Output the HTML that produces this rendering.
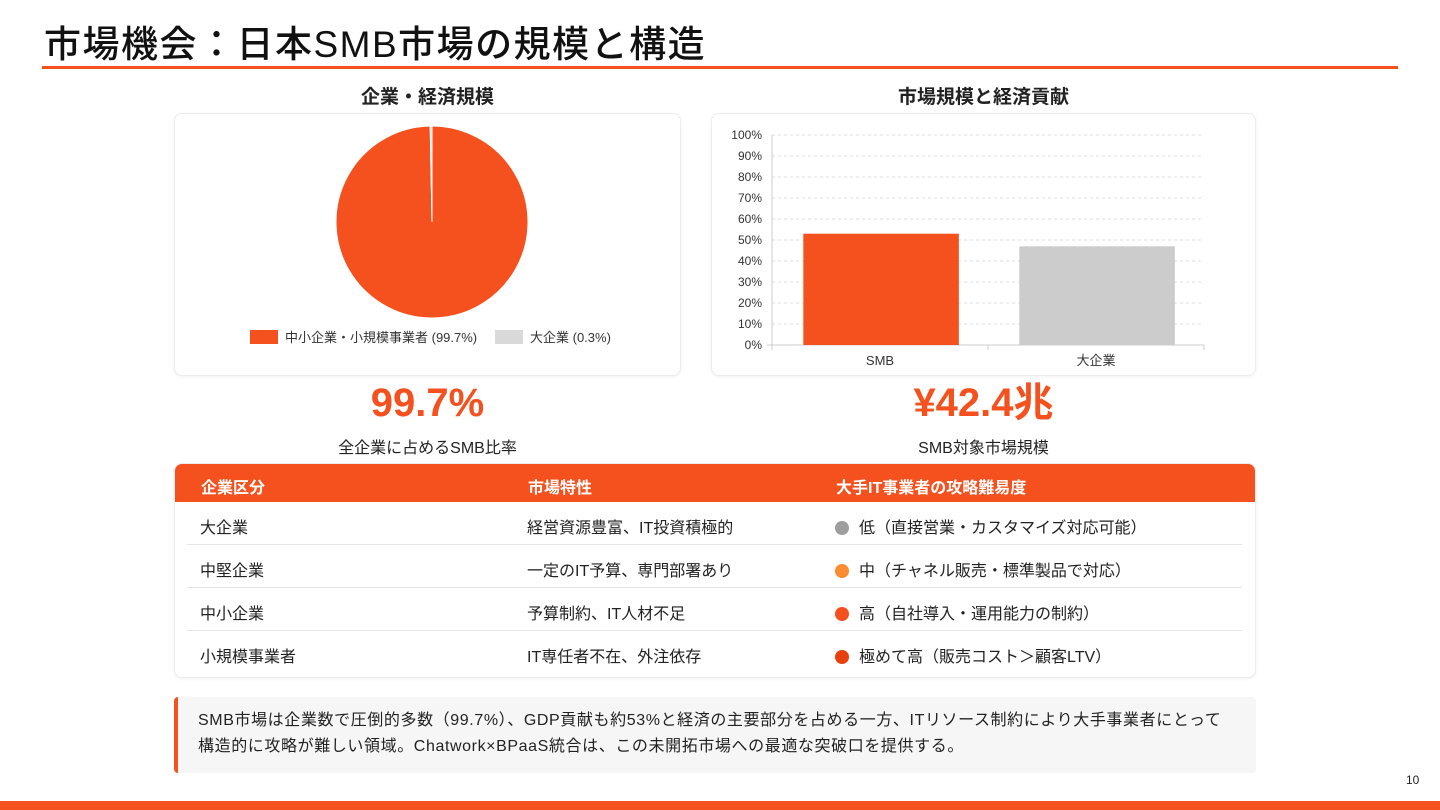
<!DOCTYPE html>
<html><head><meta charset="utf-8">
<style>
*{margin:0;padding:0;box-sizing:border-box}
body{width:1440px;height:810px;background:#fff;position:relative;overflow:hidden;font-family:"Liberation Sans","Noto Sans CJK JP",sans-serif;color:#222}
.abs{position:absolute}
.card{position:absolute;background:#fff;border:1px solid #ececec;border-radius:8px;box-shadow:0 1px 3px rgba(0,0,0,0.06)}
.h2{position:absolute;font-size:19px;font-weight:bold;text-align:center;color:#222}
.big{position:absolute;font-size:40px;line-height:46px;height:46px;font-weight:bold;color:#f4511e;text-align:center}
.sub{position:absolute;font-size:16px;text-align:center;color:#222}
.row{position:absolute;left:187px;width:1055px;height:43px;border-bottom:1px solid #e6e6e6;font-size:16px}
.row span{position:absolute;top:12px}
.dot{display:inline-block;width:14px;height:14px;border-radius:50%;margin-right:10px;vertical-align:-2px}
</style></head><body>
<div class="abs" style="left:44px;top:14px;font-size:37px;letter-spacing:1.5px;font-weight:500;color:#111;white-space:nowrap">市場機会：日本SMB市場の規模と構造</div>
<div class="abs" style="left:42px;top:66px;width:1356px;height:3px;background:#f4511e"></div>

<div class="h2" style="left:174px;top:82px;width:507px">企業・経済規模</div>
<div class="card" style="left:174px;top:113px;width:507px;height:263px">
<svg id="pie" width="507" height="263"></svg>
</div>
<div class="h2" style="left:711px;top:82px;width:545px">市場規模と経済貢献</div>
<div class="card" style="left:711px;top:113px;width:545px;height:263px">
<svg id="bar" width="545" height="263"></svg>
</div>

<div class="big" style="left:174px;top:380px;width:507px">99.7%</div>
<div class="sub" style="left:174px;top:434px;width:507px">全企業に占めるSMB比率</div>
<div class="big" style="left:711px;top:380px;width:545px">¥42.4兆</div>
<div class="sub" style="left:711px;top:434px;width:545px">SMB対象市場規模</div>

<div class="card" style="left:174px;top:463px;width:1082px;height:215px;overflow:hidden">
<div class="abs" style="left:0;top:0;width:1082px;height:38px;background:#f4511e;color:#fff;font-size:16px;font-weight:bold">
<span class="abs" style="left:26px;top:10px">企業区分</span><span class="abs" style="left:353px;top:10px">市場特性</span><span class="abs" style="left:661px;top:10px">大手IT事業者の攻略難易度</span></div>
</div>
<div class="row" style="top:502px"><span style="left:13px">大企業</span><span style="left:340px">経営資源豊富、IT投資積極的</span><span style="left:648px"><i class="dot" style="background:#9e9e9e"></i>低（直接営業・カスタマイズ対応可能）</span></div>
<div class="row" style="top:545px"><span style="left:13px">中堅企業</span><span style="left:340px">一定のIT予算、専門部署あり</span><span style="left:648px"><i class="dot" style="background:#fb8c30"></i>中（チャネル販売・標準製品で対応）</span></div>
<div class="row" style="top:588px"><span style="left:13px">中小企業</span><span style="left:340px">予算制約、IT人材不足</span><span style="left:648px"><i class="dot" style="background:#f4511e"></i>高（自社導入・運用能力の制約）</span></div>
<div class="row" style="top:631px;border-bottom:none"><span style="left:13px">小規模事業者</span><span style="left:340px">IT専任者不在、外注依存</span><span style="left:648px"><i class="dot" style="background:#e8400c"></i>極めて高（販売コスト＞顧客LTV）</span></div>

<div class="abs" style="left:174px;top:697px;width:1082px;height:76px;background:#f6f6f6;border-left:4px solid #f4511e;border-radius:4px;font-size:16px;letter-spacing:0.6px;line-height:26px;padding:11px 0 0 20px;color:#222;white-space:nowrap">SMB市場は企業数で圧倒的多数（99.7%）、GDP貢献も約53%と経済の主要部分を占める一方、ITリソース制約により大手事業者にとって<br>構造的に攻略が難しい領域。Chatwork×BPaaS統合は、この未開拓市場への最適な突破口を提供する。</div>

<div class="abs" style="left:1406px;top:773px;font-size:12px">10</div>
<div class="abs" style="left:0;top:801px;width:1440px;height:9px;background:#f4511e"></div>

<script>
const pieLabels=["中小企業・小規模事業者 (99.7%)","大企業 (0.3%)"];
const pieValues=[99.7,0.3];
const pieColors=["#f4511e","#d9d9d9"];
const barCategories=["SMB","大企業"];
const barValues=[53,47];
const barColors=["#f4511e","#cccccc"];
const yTicks=[0,10,20,30,40,50,60,70,80,90,100];
const NS="http://www.w3.org/2000/svg";
function mk(p,t,a){const e=document.createElementNS(NS,t);for(const k in a)e.setAttribute(k,a[k]);p.appendChild(e);return e;}
const pie=document.getElementById('pie');
const cx=257,cy=108,r=96;
const tot=pieValues.reduce((a,b)=>a+b,0);
let ang=-Math.PI/2;
pieValues.forEach((v,i)=>{
 const a2=ang+v/tot*2*Math.PI;
 const large=(a2-ang)>Math.PI?1:0;
 const p=mk(pie,'path',{d:`M${cx},${cy} L${cx+r*Math.cos(ang)},${cy+r*Math.sin(ang)} A${r},${r} 0 ${large} 1 ${cx+r*Math.cos(a2)},${cy+r*Math.sin(a2)} Z`,fill:pieColors[i],stroke:'#fff','stroke-width':1});
 
 
 ang=a2;
});
let lx=75;
pieLabels.forEach((l,i)=>{
 const b=mk(pie,'rect',{x:lx,y:216,width:28,height:14,fill:pieColors[i]});
 
 
 const t=mk(pie,'text',{x:lx+35,y:228,'font-size':13,fill:'#333'});
 t.textContent=l;
 
 
 lx+= i===0?245:0;
});
const bar=document.getElementById('bar');
const x0=60,x1=492,yb=231,yt=21;
const yS=v=>yb-(v/100)*(yb-yt);
yTicks.forEach(v=>{
 const y=yS(v);
 if(v>0){const g=mk(bar,'line',{x1:x0,x2:x1,y1:y,y2:y,stroke:'#ddd','stroke-dasharray':'3,3'});
 
 }
 const t=mk(bar,'text',{x:x0-10,y:y+4,'font-size':12,'text-anchor':'end',fill:'#333'});
 t.textContent=v+'%';
 
 
});
mk(bar,'line',{x1:x0,x2:x0,y1:yt,y2:yb+5,stroke:'#ccc'});
mk(bar,'line',{x1:x0-5,x2:x1,y1:yb,y2:yb,stroke:'#ccc'});
const bw=(x1-x0)/barCategories.length;
barCategories.forEach((c,i)=>{
 const bx=x0+bw*i+bw*0.145,w=bw*0.72;
 const rc=mk(bar,'rect',{x:bx,y:yS(barValues[i]),width:w,height:yb-yS(barValues[i]),fill:barColors[i]});
 
 
 mk(bar,'line',{x1:x0+bw*(i+1),x2:x0+bw*(i+1),y1:yb,y2:yb+5,stroke:'#ccc'});
 const t=mk(bar,'text',{x:x0+bw*(i+0.5),y:yb+20,'font-size':13,'text-anchor':'middle',fill:'#333'});
 t.textContent=c;
 
 
});
</script>
</body></html>
